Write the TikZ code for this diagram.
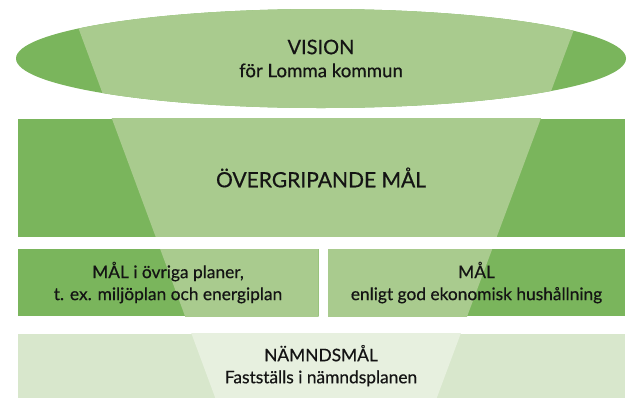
\documentclass[tikz,border=0pt]{standalone}
\usepackage{fontspec}
\setmainfont{Lato}[FakeBold=0.5]
\usepackage{xcolor}
\definecolor{cDark}{HTML}{7AB55C}
\definecolor{cLight}{HTML}{A9CB8E}
\definecolor{cPale}{HTML}{D8E7CC}
\definecolor{cPaler}{HTML}{E7F0DF}
\definecolor{cText}{HTML}{141414}
\usetikzlibrary{positioning,shapes.geometric}
\tikzset{
  lvl-box/.style={rectangle,inner sep=0pt,align=center,text=cText,
    font=\fontsize{13}{16.5}\selectfont},
  lvl-big/.style={font=\fontsize{15}{17.25}\selectfont},
  % mörk kant, ljus tratt i mitten
  lvl-top/.style={fill=cDark,path picture={
    \fill[cLight] (funnel-tl) -- (funnel-tr) -- (funnel-br) -- (funnel-bl) -- cycle;}},
  lvl-low/.style={fill=cPale,path picture={
    \fill[cPaler] (funnel-tl) -- (funnel-tr) -- (funnel-br) -- (funnel-bl) -- cycle;}},
}

\begin{document}
\begin{tikzpicture}[x=0.75pt,y=-0.75pt]
  \useasboundingbox (0,0) rectangle (641,408);
  \coordinate (funnel-tl) at (68,0);
  \coordinate (funnel-tr) at (585,0);
  \coordinate (funnel-bl) at (219,408);
  \coordinate (funnel-br) at (433,408);
  \node[lvl-box,lvl-top,lvl-big,ellipse,minimum width=457.5pt,minimum height=74.25pt] (vision) at (321,58.5)
    {VISION\\\fontsize{14}{15}\selectfont för Lomma kommun};
  \node[lvl-box,lvl-top,lvl-big,minimum width=455.25pt,minimum height=88.5pt,below=7.5pt of vision] (overgrip)
    {\fontsize{15.75}{18}\selectfont ÖVERGRIPANDE MÅL};
  \node[lvl-box,lvl-top,minimum width=225.75pt,minimum height=50.25pt,below right=9pt and 0pt of overgrip.south west] (malovr)
    {MÅL i övriga planer,\\t. ex. miljöplan och energiplan};
  \node[lvl-box,lvl-top,minimum width=222.75pt,minimum height=50.25pt,right=6.75pt of malovr] (malekon)
    {MÅL\\enligt god ekonomisk hushållning};
  \node[lvl-box,lvl-low,minimum width=455.25pt,minimum height=48pt,below right=12.75pt and 0pt of malovr.south west] (namnd)
    {NÄMNDSMÅL\\Fastställs i nämndsplanen};
\end{tikzpicture}
\end{document}
